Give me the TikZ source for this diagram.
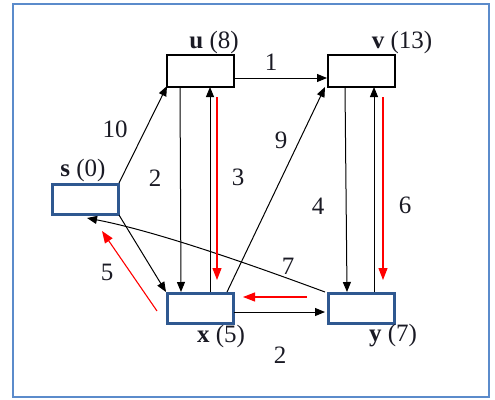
\documentclass[tikz,border=0pt]{standalone}
\usepackage{fontspec}
\setmainfont{Liberation Serif}
\usetikzlibrary{arrows.meta}
\definecolor{frameblue}{HTML}{5B8BCB}
\definecolor{boxblue}{HTML}{2F5890}
\definecolor{txt}{HTML}{1A1A24}
\tikzset{
  blk/.style={draw=black, line width=1.8pt, minimum width=67pt, minimum height=32pt, inner sep=0pt},
  blu/.style={draw=boxblue, line width=3pt, minimum width=66pt, minimum height=30pt, inner sep=0pt},
  lbl/.style={font=\fontsize{25}{27}\selectfont, text=txt, inner sep=0pt},
  edge/.style={draw=black, line width=1pt, -{Triangle[length=10pt,width=8pt]}},
  redge/.style={draw=red, line width=1.1pt, -{Triangle[length=12pt,width=9pt]}}
}
\begin{document}
\begin{tikzpicture}[x=1pt,y=-1pt]
\useasboundingbox (0,0) rectangle (495,399);
\draw[frameblue, line width=1.8pt] (13,4) rectangle (489,397);
% boxes
\node[blk] (u) at (200.5,71) {};
\node[blk] (v) at (361.5,71) {};
\node[blu] (s) at (85,199) {};
\node[blu] (x) at (200,308) {};
\node[blu] (y) at (361,308) {};
% node labels
\node[lbl] (ul) at (214,42) {\textbf{u} (8)};
\node[lbl] (vl) at (402,42) {\textbf{v} (13)};
\node[lbl] (sl) at (83,170) {\textbf{s} (0)};
\node[lbl] (xl) at (221,336) {\textbf{x} (5)};
\node[lbl] (yl) at (393,336) {\textbf{y} (7)};
% helper coordinates
\coordinate (s1) at (119,183);
\coordinate (s2) at (119,215);
\coordinate (s3) at (87,218);
\coordinate (u1) at (167,86);
\coordinate (u2) at (180,87);
\coordinate (u3) at (210,87);
\coordinate (u4) at (234,78);
\coordinate (v1) at (327,78);
\coordinate (v2) at (325,87);
\coordinate (v3) at (345,87);
\coordinate (v4) at (374,87);
\coordinate (x1) at (166,292);
\coordinate (x2) at (181,292);
\coordinate (x3) at (210,292);
\coordinate (x4) at (227,292);
\coordinate (x5) at (234,312);
\coordinate (y1) at (325,292);
\coordinate (y2) at (347,292);
\coordinate (y3) at (374,292);
\coordinate (y4) at (325,312);
% black edges
\draw[edge] (s1) -- (u1);
\draw[edge] (u4) -- (v1);
\draw[edge] (u2) -- (x2);
\draw[edge] (x3) -- (u3);
\draw[edge] (s2) -- (x1);
\draw[edge] (x4) -- (v2);
\draw[edge] (v3) -- (y2);
\draw[edge] (y3) -- (v4);
\draw[edge] (y1) .. controls (260,268) and (160,232) .. (s3);
\draw[edge] (x5) -- (y4);
% red edges
\coordinate (r1a) at (217,97);
\coordinate (r1b) at (217,280);
\coordinate (r2a) at (383,97);
\coordinate (r2b) at (383,280);
\coordinate (r3a) at (307,297);
\coordinate (r3b) at (243,297);
\coordinate (r4a) at (157,311);
\coordinate (r4b) at (102,231);
\draw[redge] (r1a) -- (r1b);
\draw[redge] (r2a) -- (r2b);
\draw[redge] (r3a) -- (r3b);
\draw[redge] (r4a) -- (r4b);
% edge labels
\node[lbl] (e1) at (271,62) {1};
\node[lbl] (e10) at (115,129) {10};
\node[lbl] (e2a) at (155,178) {2};
\node[lbl] (e3) at (238,177) {3};
\node[lbl] (e9) at (281,140) {9};
\node[lbl] (e4) at (318,206) {4};
\node[lbl] (e6) at (405,205) {6};
\node[lbl] (e7) at (288,266) {7};
\node[lbl] (e5) at (107,272) {5};
\node[lbl] (e2b) at (280,355) {2};
\end{tikzpicture}
\end{document}
